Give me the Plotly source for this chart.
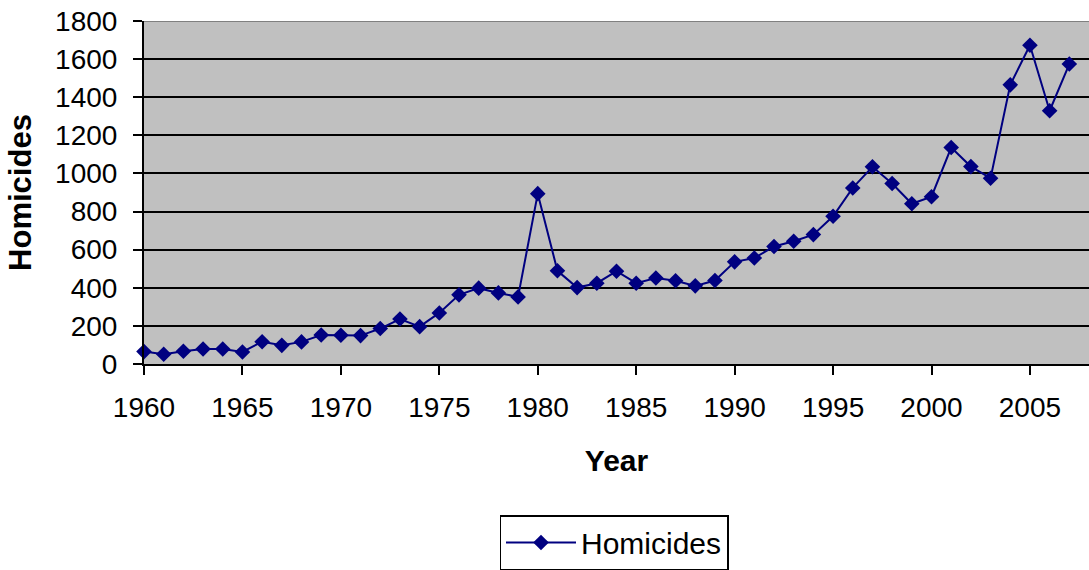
import plotly.graph_objects as go

years = list(range(1960, 2008))
homicides = [65, 51, 67, 79, 79, 63, 117, 98, 116, 152,
             151, 149, 186, 236, 196, 268, 363, 398, 373, 352,
             894, 489, 401, 424, 487, 424, 451, 437, 410, 438,
             536, 556, 617, 644, 679, 775, 924, 1035, 947, 841,
             878, 1136, 1036, 975, 1465, 1673, 1329, 1574]
x_ticks = [1960, 1965, 1970, 1975, 1980, 1985, 1990, 1995, 2000, 2005]
y_ticks = [0, 200, 400, 600, 800, 1000, 1200, 1400, 1600, 1800]

FONT = "Liberation Sans, Arial, sans-serif"
NAVY = "#000080"

fig = go.Figure()
fig.add_trace(go.Scatter(
    x=years, y=homicides, mode="lines+markers", name="Homicides",
    line=dict(color=NAVY, width=2),
    marker=dict(symbol="diamond", size=12, color=NAVY),
    cliponaxis=False,
))

W, H = 1089, 570
fig.update_layout(
    width=W, height=H,
    margin=dict(l=144, r=0, t=21, b=206, autoexpand=False),
    paper_bgcolor="white",
    plot_bgcolor="#C0C0C0",
    font=dict(family=FONT, size=28, color="black"),
    showlegend=True,
    legend=dict(
        xref="container", yref="container",
        x=614 / W, xanchor="center", y=1 - 515 / H, yanchor="top",
        bgcolor="white", bordercolor="black", borderwidth=1.5,
        font=dict(family=FONT, size=30, color="black"),
        itemwidth=70,
    ),
    xaxis=dict(
        range=[1960, 2008], tickvals=x_ticks, ticktext=[str(v) for v in x_ticks],
        tickangle=0, automargin=False, ticklabeloverflow="allow",
        showgrid=False, zeroline=False,
        showline=True, linecolor="black", linewidth=2,
        ticks="outside", ticklen=9, tickwidth=2, tickcolor="black",
        ticklabelstandoff=8,
        title=dict(text="<b>Year</b>", font=dict(family=FONT, size=30), standoff=28),
    ),
    yaxis=dict(
        range=[0, 1800], tickvals=y_ticks, automargin=False, ticklabeloverflow="allow",
        showgrid=True, gridcolor="black", gridwidth=1.5,
        zeroline=False,
        showline=True, linecolor="black", linewidth=2,
        ticks="outside", ticklen=9, tickwidth=2, tickcolor="black",
        ticklabelstandoff=10,
        title=dict(text="<b>Homicides</b>", font=dict(family=FONT, size=31), standoff=14),
    ),
    shapes=[dict(type="line", xref="paper", yref="y", x0=0, x1=1, y0=1800, y1=1800,
                 line=dict(color="#808080", width=2), layer="above")],
)

fig.write_html("out.html", config={"displayModeBar": False},
               post_script="document.body.style.margin='0';")
